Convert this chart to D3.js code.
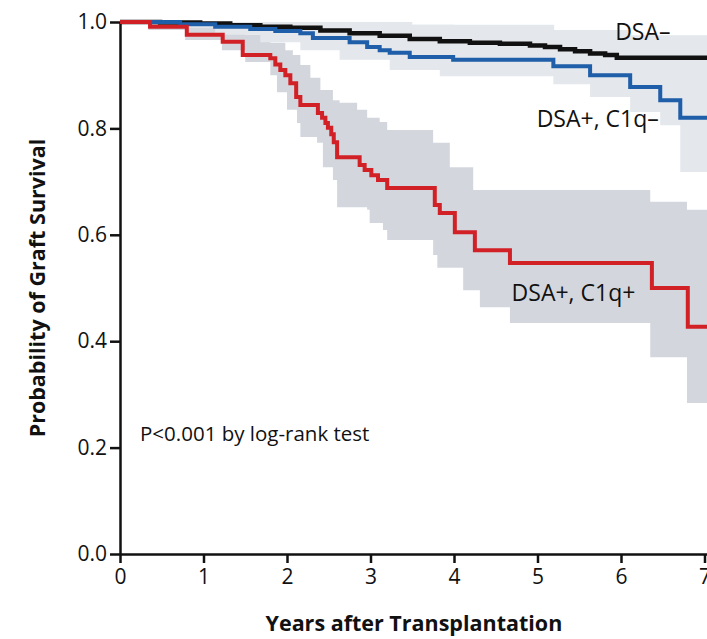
<!DOCTYPE html>
<html>
<head>
<meta charset="utf-8">
<script src="https://cdn.jsdelivr.net/npm/d3@7"></script>
<style>
body { margin: 0; background: #fff; }
text { font-family: "Open Sans", "Noto Sans", sans-serif; }
</style>
</head>
<body>
<div class="chart"></div>
<script>
// Kaplan-Meier estimates, [years, probability] at each step
var dsaNeg = [[0, 1.0], [0.48, 0.999], [0.96, 0.997], [1.32, 0.994], [1.68, 0.991], [2.04, 0.989],
    [2.40, 0.984], [2.75, 0.979], [3.11, 0.974], [3.47, 0.968], [3.83, 0.964], [4.19, 0.961],
    [4.55, 0.959], [4.91, 0.956], [5.09, 0.953], [5.27, 0.949], [5.45, 0.945], [5.63, 0.941],
    [5.81, 0.938], [5.95, 0.933]];

var dsaPosC1qNeg = [[0, 1.0], [0.72, 0.996], [1.14, 0.991], [1.56, 0.987], [1.86, 0.983], [2.16, 0.979],
    [2.31, 0.970], [2.75, 0.962], [2.96, 0.953], [3.11, 0.947], [3.23, 0.942], [3.47, 0.934],
    [3.99, 0.929], [5.19, 0.917], [5.63, 0.900], [6.11, 0.878], [6.47, 0.853], [6.71, 0.820]];

var dsaPosC1qPos = [[0, 1.0], [0.36, 0.991], [0.80, 0.976], [1.23, 0.963], [1.47, 0.938], [1.80, 0.932],
    [1.86, 0.920], [1.92, 0.910], [1.98, 0.900], [2.04, 0.885], [2.11, 0.859], [2.16, 0.844],
    [2.37, 0.829], [2.42, 0.820], [2.46, 0.810], [2.49, 0.801], [2.53, 0.789], [2.56, 0.774],
    [2.60, 0.746], [2.87, 0.731], [2.93, 0.722], [3.01, 0.712], [3.09, 0.703], [3.20, 0.688],
    [3.77, 0.656], [3.83, 0.641], [4.01, 0.605], [4.25, 0.571], [4.67, 0.547], [6.37, 0.500],
    [6.80, 0.427]];

// 95% confidence limits
var dsaNegLower = [[0, 1.0], [1.0, 0.992], [2.0, 0.982], [3.0, 0.966], [4.0, 0.955], [5.0, 0.946], [5.6, 0.930], [6.0, 0.922]];
var dsaNegUpper = [[0, 1.0], [2.0, 0.995], [4.0, 0.972], [5.0, 0.966], [5.6, 0.952], [6.0, 0.944]];

var c1qNegLower = [[0, 1.0], [0.72, 0.989], [1.14, 0.976], [1.68, 0.962], [2.16, 0.947], [2.63, 0.929],
    [3.23, 0.910], [3.83, 0.898], [5.19, 0.883], [5.63, 0.859], [6.11, 0.831], [6.47, 0.806], [6.71, 0.718]];
var c1qNegUpper = [[0, 1.0], [3.5, 0.995], [5.2, 0.985], [6.1, 0.975]];

var c1qPosLower = [[0, 1.0], [0.34, 0.985], [0.78, 0.966], [1.22, 0.947], [1.50, 0.925], [1.80, 0.900],
    [1.88, 0.868], [2.00, 0.835], [2.12, 0.810], [2.16, 0.784], [2.36, 0.773], [2.43, 0.727],
    [2.55, 0.703], [2.60, 0.652], [2.96, 0.647], [2.99, 0.622], [3.15, 0.609], [3.20, 0.590],
    [3.75, 0.562], [3.80, 0.538], [4.11, 0.496], [4.31, 0.464], [4.67, 0.434], [6.35, 0.370],
    [6.79, 0.284]];
var c1qPosUpper = [[0, 1.0], [1.26, 0.989], [1.50, 0.976], [1.80, 0.961], [1.98, 0.947], [2.07, 0.938],
    [2.16, 0.919], [2.28, 0.895], [2.40, 0.872], [2.55, 0.853], [2.63, 0.848], [2.84, 0.835],
    [2.96, 0.820], [3.11, 0.812], [3.20, 0.797], [3.75, 0.773], [3.95, 0.727], [4.23, 0.684],
    [6.35, 0.662], [6.79, 0.647]];

var xTicks = [0, 1, 2, 3, 4, 5, 6, 7];
var yTicks = [0, 0.2, 0.4, 0.6, 0.8, 1.0];
var endYear = 7.05;

var width = 707, height = 639;
var margin = { top: 22, right: 0, bottom: 85, left: 120 };

var svg = d3.select(".chart")
    .append("svg")
    .attr("width", width)
    .attr("height", height);

var x = d3.scaleLinear()
    .domain([0, 7.03])
    .range([margin.left, width]);

var y = d3.scaleLinear()
    .domain([0, 1])
    .range([height - margin.bottom, margin.top]);

// value of a step function at time t
function stepAt(arr, t) {
    var i = d3.bisector(function (d) { return d[0]; }).right(arr, t) - 1;
    return arr[Math.max(0, i)][1];
}

function bandRows(lower, upper) {
    var times = Array.from(new Set(lower.map(function (d) { return d[0]; })
        .concat(upper.map(function (d) { return d[0]; })))).sort(d3.ascending);
    times.push(endYear);
    return times.map(function (t) { return [t, stepAt(lower, t), stepAt(upper, t)]; });
}

function extend(arr) {
    return arr.concat([[endYear, arr[arr.length - 1][1]]]);
}

var area = d3.area()
    .curve(d3.curveStepAfter)
    .x(function (d) { return x(d[0]); })
    .y0(function (d) { return y(d[1]); })
    .y1(function (d) { return y(d[2]); });

var line = d3.line()
    .curve(d3.curveStepAfter)
    .x(function (d) { return x(d[0]); })
    .y(function (d) { return y(d[1]); });

// confidence bands
svg.append("path").datum(bandRows(c1qPosLower, c1qPosUpper))
    .attr("d", area).attr("fill", "#d3d7dd");
svg.append("path").datum(bandRows(c1qNegLower, c1qNegUpper))
    .attr("d", area).attr("fill", "#e4e7eb");
svg.append("path").datum(bandRows(dsaNegLower, dsaNegUpper))
    .attr("d", area).attr("fill", "#e4e7eb");

// axes
var xAxis = svg.append("g")
    .attr("transform", "translate(0," + y(0) + ")")
    .call(d3.axisBottom(x).tickValues(xTicks).tickFormat(d3.format("d"))
        .tickSize(9).tickPadding(6).tickSizeOuter(0));

var yAxis = svg.append("g")
    .attr("transform", "translate(" + x(0) + ",0)")
    .call(d3.axisLeft(y).tickValues(yTicks).tickFormat(d3.format(".1f"))
        .tickSize(10).tickPadding(3).tickSizeOuter(0));

[xAxis, yAxis].forEach(function (g) {
    g.selectAll("path, line").attr("stroke", "#111").attr("stroke-width", 2.5);
    g.selectAll("text").attr("font-size", 21).attr("fill", "#111")
        .style("font-family", '"Open Sans", sans-serif');
});

// survival curves
svg.append("path").datum(extend(dsaNeg))
    .attr("d", line).attr("fill", "none").attr("stroke", "#111").attr("stroke-width", 4.5);
svg.append("path").datum(extend(dsaPosC1qNeg))
    .attr("d", line).attr("fill", "none").attr("stroke", "#1f5ea8").attr("stroke-width", 4);
svg.append("path").datum(extend(dsaPosC1qPos))
    .attr("d", line).attr("fill", "none").attr("stroke", "#d22027").attr("stroke-width", 4);

// curve labels
function label(txt, t, v, size) {
    svg.append("text")
        .attr("x", x(t)).attr("y", y(v))
        .attr("font-size", size).attr("fill", "#111")
        .text(txt);
}
label("DSA\u2013", 5.93, 0.966, 23);
label("DSA+, C1q\u2013", 4.99, 0.803, 23);
label("DSA+, C1q+", 4.69, 0.476, 23);
label("P<0.001 by log-rank test", 0.24, 0.212, 20.5);

// axis titles
svg.append("text")
    .attr("x", x(3.52)).attr("y", 631)
    .attr("text-anchor", "middle")
    .attr("font-size", 21.5).attr("font-weight", "bold").attr("fill", "#111")
    .text("Years after Transplantation");

svg.append("text")
    .attr("transform", "translate(45," + y(0.5) + ") rotate(-90)")
    .attr("text-anchor", "middle")
    .attr("font-size", 21.5).attr("font-weight", "bold").attr("fill", "#111")
    .text("Probability of Graft Survival");
</script>
</body>
</html>
